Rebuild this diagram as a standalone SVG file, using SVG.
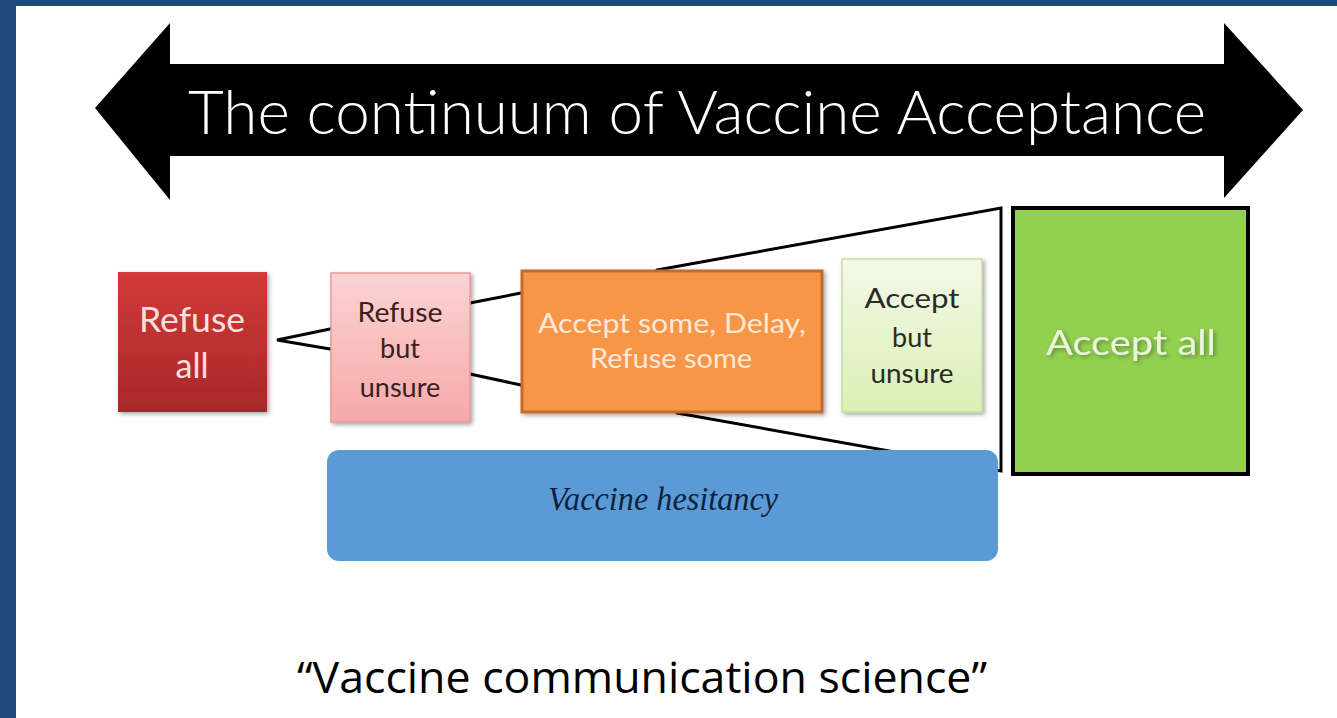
<svg xmlns="http://www.w3.org/2000/svg" width="1337" height="718" viewBox="0 0 1337 718">
<defs>
<style>
.lbl{font-family:"Lato","Liberation Sans",sans-serif;text-anchor:middle}
.line{stroke:#000;stroke-width:3;fill:none;stroke-linecap:round}
</style>
<linearGradient id="gRed" x1="0" y1="0" x2="0" y2="1"><stop offset="0" stop-color="#d13a38"/><stop offset="1" stop-color="#a8282a"/></linearGradient>
<linearGradient id="gPink" x1="0" y1="0" x2="0" y2="1"><stop offset="0" stop-color="#fbd3d3"/><stop offset="1" stop-color="#f7a9a9"/></linearGradient>
<linearGradient id="gLime" x1="0" y1="0" x2="0" y2="1"><stop offset="0" stop-color="#f3f9e6"/><stop offset="1" stop-color="#dcefb6"/></linearGradient>
<filter id="sh" x="-10%" y="-10%" width="130%" height="130%"><feDropShadow dx="2" dy="2" stdDeviation="2" flood-color="#000" flood-opacity="0.35"/></filter>
</defs>
<rect x="0" y="0" width="1337" height="718" fill="#1f497d"/>
<rect x="16" y="6" width="1321" height="712" fill="#ffffff"/>

<g id="title-arrow">
<polygon points="95,108 170,23 170,64 1224,64 1224,23 1303,110 1224,198 1224,156 170,156 170,200" fill="#000"/>
<text x="697" y="134" font-family="Lato,'DejaVu Sans',sans-serif" font-weight="300" font-size="62" fill="#fff" text-anchor="middle" textLength="1018" lengthAdjust="spacingAndGlyphs">The continuum of Vaccine Acceptance</text>
</g>

<g id="connectors">
<polyline class="line" points="330,329 277,340 330,349"/>
<line class="line" x1="470" y1="303" x2="521" y2="293"/>
<line class="line" x1="470" y1="374" x2="521" y2="385"/>
<polyline class="line" points="657,270 1001,208 1001,471 677,413"/>
</g>

<g id="refuse-all">
<rect x="118" y="272" width="149" height="140" fill="url(#gRed)" filter="url(#sh)"/>
<text class="lbl" x="192" y="332" font-size="34" fill="#fbe0e0" textLength="106" lengthAdjust="spacingAndGlyphs">Refuse</text>
<text class="lbl" x="192" y="378" font-size="34" fill="#fbe0e0">all</text>
</g>

<g id="refuse-but-unsure">
<rect x="331" y="273" width="139" height="149" fill="url(#gPink)" stroke="#e59a9a" stroke-width="1.5" filter="url(#sh)"/>
<text class="lbl" x="400" y="322" font-size="27" fill="#3a2020" textLength="85" lengthAdjust="spacingAndGlyphs">Refuse</text>
<text class="lbl" x="400" y="358" font-size="27" fill="#3a2020">but</text>
<text class="lbl" x="400" y="397" font-size="27" fill="#3a2020">unsure</text>
</g>

<g id="accept-some">
<rect x="522" y="271" width="300" height="141" fill="#f79646" stroke="#c46a2c" stroke-width="3" filter="url(#sh)"/>
<text class="lbl" x="672" y="333" font-size="27" fill="#fde9d9" textLength="268" lengthAdjust="spacingAndGlyphs">Accept some, Delay,</text>
<text class="lbl" x="671" y="368" font-size="27" fill="#fde9d9" textLength="162" lengthAdjust="spacingAndGlyphs">Refuse some</text>
</g>

<g id="accept-but-unsure">
<rect x="842" y="259" width="140" height="153" fill="url(#gLime)" stroke="#c9dca6" stroke-width="1.5" filter="url(#sh)"/>
<text class="lbl" x="912" y="308" font-size="27" fill="#2a2a2a" textLength="95" lengthAdjust="spacingAndGlyphs">Accept</text>
<text class="lbl" x="912" y="347" font-size="27" fill="#2a2a2a">but</text>
<text class="lbl" x="912" y="383" font-size="27" fill="#2a2a2a" textLength="83" lengthAdjust="spacingAndGlyphs">unsure</text>
</g>

<g id="accept-all">
<rect x="1013" y="208" width="235" height="266" fill="#92d050" stroke="#000" stroke-width="4"/>
<text class="lbl" x="1131" y="355" font-size="34" fill="#ebf5de" filter="url(#sh)" textLength="170" lengthAdjust="spacingAndGlyphs">Accept all</text>
</g>

<g id="vaccine-hesitancy">
<rect x="327" y="450" width="671" height="111" rx="12" ry="12" fill="#5b9bd5"/>
<text x="663" y="510" font-family="'Liberation Serif','DejaVu Serif',serif" font-style="italic" font-size="33" fill="#10213f" text-anchor="middle" textLength="230" lengthAdjust="spacingAndGlyphs">Vaccine hesitancy</text>
</g>

<text x="642" y="693" font-family="'Open Sans','Liberation Sans',sans-serif" font-size="44" fill="#000" text-anchor="middle" textLength="690" lengthAdjust="spacingAndGlyphs">“Vaccine communication science”</text>
</svg>
